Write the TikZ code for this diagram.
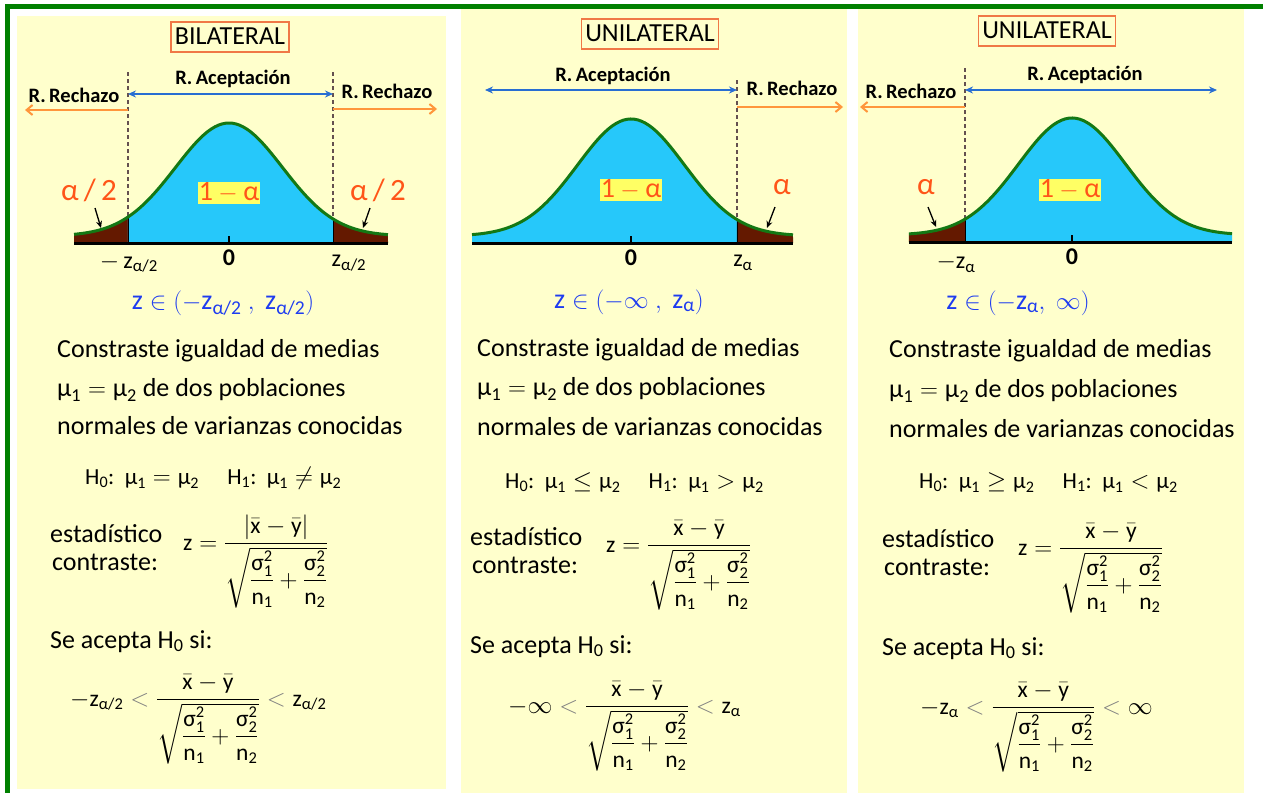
\documentclass[tikz,border=0pt]{standalone}
\usepackage{amsmath}
\usepackage{fontspec}
\setmainfont{Carlito}
\usetikzlibrary{arrows.meta}
\newcommand{\tx}[1]{\text{#1}}
\newcommand{\sqden}{\sqrt{\dfrac{\tx{σ}_{\tx{1}}^{\tx{2}}}{\tx{n}_{\tx{1}}}+\dfrac{\tx{σ}_{\tx{2}}^{\tx{2}}}{\tx{n}_{\tx{2}}}}}
\newcommand{\xmy}{\bar{\tx{x}}-\bar{\tx{y}}}
\newcommand{\lsg}{\mathrel{\textcolor{gray}{<}}}
\definecolor{bgY}{RGB}{255,255,204}
\definecolor{grB}{RGB}{0,128,0}
\definecolor{orB}{RGB}{240,120,70}
\definecolor{blF}{RGB}{38,200,250}
\definecolor{brF}{RGB}{100,25,0}
\definecolor{crv}{RGB}{20,120,20}
\definecolor{hlY}{RGB}{255,255,100}
\definecolor{alR}{RGB}{255,85,25}
\definecolor{zB}{RGB}{30,60,240}
\definecolor{arB}{RGB}{40,110,210}
\definecolor{arO}{RGB}{255,150,60}
\definecolor{dsh}{RGB}{100,80,80}
\newcommand{\bellfill}[6]{%
 \fill[#6] ({#1+53.5*(#4)},#2) -- plot[domain=#4:#5, samples=50] ({#1+53.5*\x},{#2-7-(#3-7)*exp(-\x*\x/2)}) -- ({#1+53.5*(#5)},#2) -- cycle;}
\newcommand{\bellline}[5]{%
 \draw[bellline] plot[domain=#4:#5, samples=90, smooth] ({#1+53.5*\x},{#2-7-(#3-7)*exp(-\x*\x/2)});}
\tikzset{
 txt/.style={anchor=base west, inner sep=0pt, font=\fontsize{26}{30}\selectfont},
 hyp/.style={anchor=base west, inner sep=0pt, font=\fontsize{23}{27}\selectfont},
 fml/.style={anchor=base west, inner sep=0pt, font=\fontsize{23.5}{27}\selectfont},
 titlebox/.style={draw=orB, line width=1.5pt, fill=bgY, inner xsep=4pt, inner ysep=4pt, text height=18pt, text depth=4pt, font=\fontsize{26}{30}\selectfont},
 regl/.style={inner sep=0pt, font=\bfseries\fontsize{20.5}{24}\selectfont},
 alab/.style={text=alR, inner sep=0pt, font=\fontsize{31}{34}\selectfont},
 oma/.style={fill=hlY, text=alR, inner sep=1pt, font=\fontsize{28}{32}\selectfont},
 axl/.style={inner sep=0pt, font=\fontsize{24}{28}\selectfont},
 zin/.style={text=zB, inner sep=0pt, font=\fontsize{28}{32}\selectfont},
 blarrow/.style={arB, line width=1.6pt, {Stealth[length=8pt,width=7pt]}-{Stealth[length=8pt,width=7pt]}},
 orarrow/.style={arO, line width=2pt, -{Straight Barb[length=6pt,width=10pt]}},
 dline/.style={dsh, line width=1.5pt, dash pattern=on 4pt off 3pt},
 parrow/.style={black, line width=1.3pt, -{Stealth[length=7pt,width=6pt]}},
 bellline/.style={crv, line width=3pt},
 axisline/.style={black, line width=3pt},
 cutline/.style={black, line width=1pt},
}
\begin{document}
\begin{tikzpicture}[x=1pt,y=-1pt]
\useasboundingbox (0,0) rectangle (1263,793);
\fill[white] (0,0) rectangle (1263,793);
\fill[grB] (5,4) rectangle (1263,9);
\fill[grB] (5,4) rectangle (10,793);
\fill[bgY] (17,16) rectangle (446,789);
\fill[bgY] (461,9) rectangle (847,793);
\fill[bgY] (858,9) rectangle (1244,793);

% ================= Panel 1 =================
\node[titlebox] (t1) at (230,37) {BILATERAL};
\bellfill{229}{243}{120}{-2.897}{-1.888}{brF}
\bellfill{229}{243}{120}{-1.888}{1.944}{blF}
\bellfill{229}{243}{120}{1.944}{2.972}{brF}
\coordinate (d1a) at (128,72); \coordinate (d1b) at (128,217); \coordinate (d1c) at (128,243);
\coordinate (d2a) at (333,72); \coordinate (d2b) at (333,219); \coordinate (d2c) at (333,243);
\draw[dline] (d1a) -- (d1b);
\draw[dline] (d2a) -- (d2b);
\draw[cutline] (d1b) -- (d1c);
\draw[cutline] (d2b) -- (d2c);
\bellline{229}{243}{120}{-2.897}{2.972}
\coordinate (b1l) at (74,243); \coordinate (b1r) at (388,243);
\draw[axisline] (b1l) -- (b1r);
\coordinate (k1a) at (229,243); \coordinate (k1b) at (229,236);
\draw[black, line width=1.5pt] (k1a) -- (k1b);
\node[regl] (ra1) at (233,79) {R.\,Aceptación};
\node[regl] (rr1a) at (74,95) {R.\,Rechazo};
\node[regl] (rr1b) at (387,91) {R.\,Rechazo};
\coordinate (a1l) at (128,94); \coordinate (a1r) at (333,94);
\draw[blarrow] (a1l) -- (a1r);
\coordinate (o1a) at (128,110); \coordinate (o1b) at (25,110);
\draw[orarrow] (o1a) -- (o1b);
\coordinate (o2a) at (333,109); \coordinate (o2b) at (437,109);
\draw[orarrow] (o2a) -- (o2b);
\node[alab] (al1) at (89,190) {α\,/\,2};
\node[alab] (al2) at (378,190) {α\,/\,2};
\coordinate (p1a) at (95,208); \coordinate (p1b) at (101,228);
\coordinate (p2a) at (370,208); \coordinate (p2b) at (363,228);
\draw[parrow] (p1a) -- (p1b);
\draw[parrow] (p2a) -- (p2b);
\node[oma] (om1) at (229,193) {$\tx{1}-\tx{α}$};
\node[axl] (x1a) at (129,263) {$-\,\tx{z}_{\tx{α/2}}$};
\node[axl, font=\bfseries\fontsize{24}{28}\selectfont] (x1b) at (229,258) {0};
\node[axl] (x1c) at (349,263) {$\tx{z}_{\tx{α/2}}$};
\node[zin] (z1) at (223,303) {$\tx{z}\in(-\tx{z}_{\tx{α/2}}\ ,\ \tx{z}_{\tx{α/2}})$};
\node[txt] (l1a) at (57,357) {Constraste igualdad de medias};
\node[txt] (l1b) at (57,396) {$\tx{μ}_{\tx{1}}=\tx{μ}_{\tx{2}}$ de dos poblaciones};
\node[txt] (l1c) at (57,434) {normales de varianzas conocidas};
\node[hyp] (h1) at (85,484) {$\tx{H}_{\tx{0}}\tx{:}\ \ \tx{μ}_{\tx{1}}=\tx{μ}_{\tx{2}}\quad\ \tx{H}_{\tx{1}}\tx{:}\ \ \tx{μ}_{\tx{1}}\neq\tx{μ}_{\tx{2}}$};
\node[txt] (e1a) at (50,542) {estadístico};
\node[txt] (e1b) at (52,570) {contraste:};
\node[fml] (f1) at (183,550) {$\tx{z}=\dfrac{\left|\xmy\right|}{\sqden}$};
\node[txt] (s1) at (50,648) {Se acepta H$_{\text{0}}$ si:};
\node[fml] (g1) at (70,706) {$-\tx{z}_{\tx{α/2}}\lsg\dfrac{\xmy}{\sqden}\lsg\tx{z}_{\tx{α/2}}$};

% ================= Panel 2 =================
\node[titlebox] (t2) at (650,34) {UNILATERAL};
\bellfill{631}{243}{124}{-2.972}{1.981}{blF}
\bellfill{631}{243}{124}{1.981}{3.028}{brF}
\coordinate (d3a) at (737,80); \coordinate (d3b) at (737,219); \coordinate (d3c) at (737,243);
\draw[dline] (d3a) -- (d3b);
\draw[cutline] (d3b) -- (d3c);
\bellline{631}{243}{124}{-2.972}{3.028}
\coordinate (b2l) at (472,243); \coordinate (b2r) at (793,243);
\draw[axisline] (b2l) -- (b2r);
\coordinate (k2a) at (631,243); \coordinate (k2b) at (631,236);
\draw[black, line width=1.5pt] (k2a) -- (k2b);
\node[regl] (ra2) at (613,76) {R.\,Aceptación};
\node[regl] (rr2) at (792,88) {R.\,Rechazo};
\coordinate (a2l) at (485,90); \coordinate (a2r) at (737,90);
\draw[blarrow] (a2l) -- (a2r);
\coordinate (o3a) at (737,107); \coordinate (o3b) at (843,107);
\draw[orarrow] (o3a) -- (o3b);
\node[alab] (al3) at (782,187) {α};
\coordinate (p3a) at (775,207); \coordinate (p3b) at (767,228);
\draw[parrow] (p3a) -- (p3b);
\node[oma] (om2) at (631,190) {$\tx{1}-\tx{α}$};
\node[axl, font=\bfseries\fontsize{24}{28}\selectfont] (x2b) at (631,258) {0};
\node[axl] (x2c) at (743,263) {$\tx{z}_{\tx{α}}$};
\node[zin] (z2) at (629,302) {$\tx{z}\in(-\infty\ ,\ \tx{z}_{\tx{α}})$};
\node[txt] (l2a) at (477,356) {Constraste igualdad de medias};
\node[txt] (l2b) at (477,395) {$\tx{μ}_{\tx{1}}=\tx{μ}_{\tx{2}}$ de dos poblaciones};
\node[txt] (l2c) at (477,435) {normales de varianzas conocidas};
\node[hyp] (h2) at (505,488) {$\tx{H}_{\tx{0}}\tx{:}\ \ \tx{μ}_{\tx{1}}\leq\tx{μ}_{\tx{2}}\quad\ \tx{H}_{\tx{1}}\tx{:}\ \ \tx{μ}_{\tx{1}}>\tx{μ}_{\tx{2}}$};
\node[txt] (e2a) at (470,545) {estadístico};
\node[txt] (e2b) at (472,573) {contraste:};
\node[fml] (f2) at (606,552) {$\tx{z}=\dfrac{\xmy}{\sqden}$};
\node[txt] (s2) at (470,653) {Se acepta H$_{\text{0}}$ si:};
\node[fml] (g2) at (508,713) {$-\infty\lsg\dfrac{\xmy}{\sqden}\lsg\tx{z}_{\tx{α}}$};

% ================= Panel 3 =================
\node[titlebox] (t3) at (1047,31) {UNILATERAL};
\bellfill{1072}{242}{124}{-3.047}{-2.0}{brF}
\bellfill{1072}{242}{124}{-2.0}{2.991}{blF}
\coordinate (d4a) at (965,68); \coordinate (d4b) at (965,219); \coordinate (d4c) at (965,242);
\draw[dline] (d4a) -- (d4b);
\draw[cutline] (d4b) -- (d4c);
\bellline{1072}{242}{124}{-3.047}{2.991}
\coordinate (b3l) at (909,242); \coordinate (b3r) at (1232,242);
\draw[axisline] (b3l) -- (b3r);
\coordinate (k3a) at (1072,242); \coordinate (k3b) at (1072,235);
\draw[black, line width=1.5pt] (k3a) -- (k3b);
\node[regl] (ra3) at (1085,75) {R.\,Aceptación};
\node[regl] (rr3) at (911,91) {R.\,Rechazo};
\coordinate (a3l) at (965,90); \coordinate (a3r) at (1217,90);
\draw[blarrow] (a3l) -- (a3r);
\coordinate (o4a) at (965,107); \coordinate (o4b) at (860,107);
\draw[orarrow] (o4a) -- (o4b);
\node[alab] (al4) at (926,187) {α};
\coordinate (p4a) at (928,207); \coordinate (p4b) at (936,227);
\draw[parrow] (p4a) -- (p4b);
\node[oma] (om3) at (1070,190) {$\tx{1}-\tx{α}$};
\node[axl] (x3a) at (956,263) {$-\tx{z}_{\tx{α}}$};
\node[axl, font=\bfseries\fontsize{24}{28}\selectfont] (x3b) at (1072,257) {0};
\node[zin] (z3) at (1018,303) {$\tx{z}\in(-\tx{z}_{\tx{α}},\ \infty)$};
\node[txt] (l3a) at (889,357) {Constraste igualdad de medias};
\node[txt] (l3b) at (889,397) {$\tx{μ}_{\tx{1}}=\tx{μ}_{\tx{2}}$ de dos poblaciones};
\node[txt] (l3c) at (889,437) {normales de varianzas conocidas};
\node[hyp] (h3) at (919,488) {$\tx{H}_{\tx{0}}\tx{:}\ \ \tx{μ}_{\tx{1}}\geq\tx{μ}_{\tx{2}}\quad\ \tx{H}_{\tx{1}}\tx{:}\ \ \tx{μ}_{\tx{1}}<\tx{μ}_{\tx{2}}$};
\node[txt] (e3a) at (882,547) {estadístico};
\node[txt] (e3b) at (884,575) {contraste:};
\node[fml] (f3) at (1018,555) {$\tx{z}=\dfrac{\xmy}{\sqden}$};
\node[txt] (s3) at (882,655) {Se acepta H$_{\text{0}}$ si:};
\node[fml] (g3) at (920,714) {$-\tx{z}_{\tx{α}}\lsg\dfrac{\xmy}{\sqden}\lsg\infty$};
\end{tikzpicture}
\end{document}
